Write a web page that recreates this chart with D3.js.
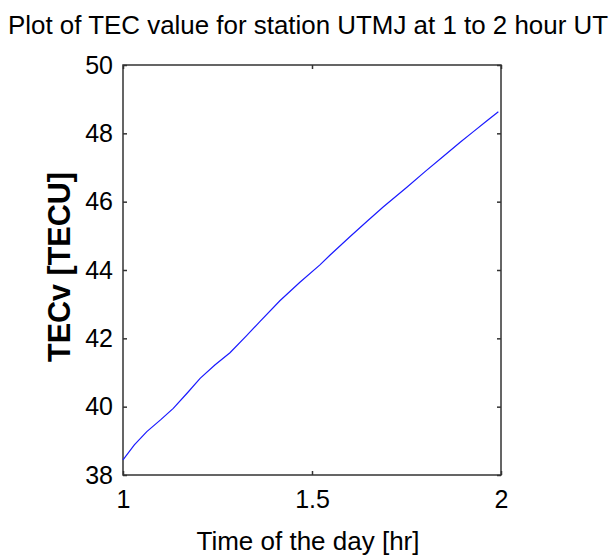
<!DOCTYPE html>
<html lang="en">
<head>
  <meta charset="UTF-8"/>
  <title>TEC UTMJ</title>
  <script src="https://d3js.org/d3.v7.min.js"></script>
  <style>
    body { margin:0; background:#fff; }
    svg { display:block; font-family:"Liberation Sans",Arial,sans-serif; }
    .axis path { display:none; }
    .axis line { stroke:#333; stroke-width:1.5; }
    .axis text { font-size:25px; fill:#000; font-family:"Liberation Sans",Arial,sans-serif; }
  </style>
</head>
<body>
  <svg width="614" height="555"></svg>
  <script>
    // time of day [hr] and vertical TEC [TECU]
    const hours = [1.000, 1.030, 1.063, 1.100, 1.133, 1.170, 1.204, 1.243, 1.283, 1.327,
                   1.362, 1.415, 1.468, 1.521, 1.548, 1.601, 1.645, 1.689, 1.751, 1.799,
                   1.847, 1.892, 1.927, 1.962, 1.993];
    const tecv  = [38.44, 38.88, 39.27, 39.62, 39.95, 40.40, 40.83, 41.22, 41.58, 42.08,
                   42.49, 43.10, 43.64, 44.15, 44.44, 44.98, 45.42, 45.85, 46.42, 46.88,
                   47.32, 47.74, 48.05, 48.36, 48.63];
    const xTicks = [1, 1.5, 2];
    const yTicks = [38, 40, 42, 44, 46, 48, 50];

    const svg = d3.select('svg');
    const mLeft = 123, mRight = 501, mTop = 65, mBottom = 475;

    const x = d3.scaleLinear().domain([1, 2]).range([mLeft, mRight]);
    const y = d3.scaleLinear().domain([38, 50]).range([mBottom, mTop]);

    // axes, ticks pointing inward, mirrored on top/right
    svg.append('g').attr('class','axis').attr('transform',`translate(0,${mBottom})`)
      .call(d3.axisBottom(x).tickValues(xTicks).tickSize(-4).tickPadding(15).tickFormat(d3.format('')));
    svg.append('g').attr('class','axis').attr('transform',`translate(0,${mTop})`)
      .call(d3.axisTop(x).tickValues(xTicks).tickSize(-4).tickFormat(''));
    svg.append('g').attr('class','axis').attr('transform',`translate(${mLeft},0)`)
      .call(d3.axisLeft(y).tickValues(yTicks).tickSize(-4).tickPadding(10));
    svg.append('g').attr('class','axis').attr('transform',`translate(${mRight},0)`)
      .call(d3.axisRight(y).tickValues(yTicks).tickSize(-4).tickFormat(''));

    // plot box
    svg.append('rect')
      .attr('x',mLeft).attr('y',mTop)
      .attr('width',mRight-mLeft).attr('height',mBottom-mTop)
      .attr('fill','none').attr('stroke','#333').attr('stroke-width',1.5);

    // data line
    const line = d3.line().x((d,i)=>x(hours[i])).y(d=>y(d));
    svg.append('path')
      .attr('d', line(tecv))
      .attr('fill','none')
      .attr('stroke','#1a1aff')
      .attr('stroke-width',1.2);

    // title and labels
    svg.append('text')
      .attr('x',308).attr('y',34)
      .attr('text-anchor','middle')
      .attr('font-size',25)
      .attr('textLength',600).attr('lengthAdjust','spacingAndGlyphs')
      .text('Plot of TEC value for station UTMJ at 1 to 2 hour UT');

    svg.append('text')
      .attr('x',308).attr('y',550)
      .attr('text-anchor','middle')
      .attr('font-size',25)
      .attr('textLength',223).attr('lengthAdjust','spacingAndGlyphs')
      .text('Time of the day [hr]');

    svg.append('text')
      .attr('transform','translate(70,267) rotate(-90)')
      .attr('text-anchor','middle')
      .attr('font-size',31)
      .attr('font-weight','bold')
      .attr('textLength',190).attr('lengthAdjust','spacingAndGlyphs')
      .text('TECv [TECU]');
  </script>
</body>
</html>
